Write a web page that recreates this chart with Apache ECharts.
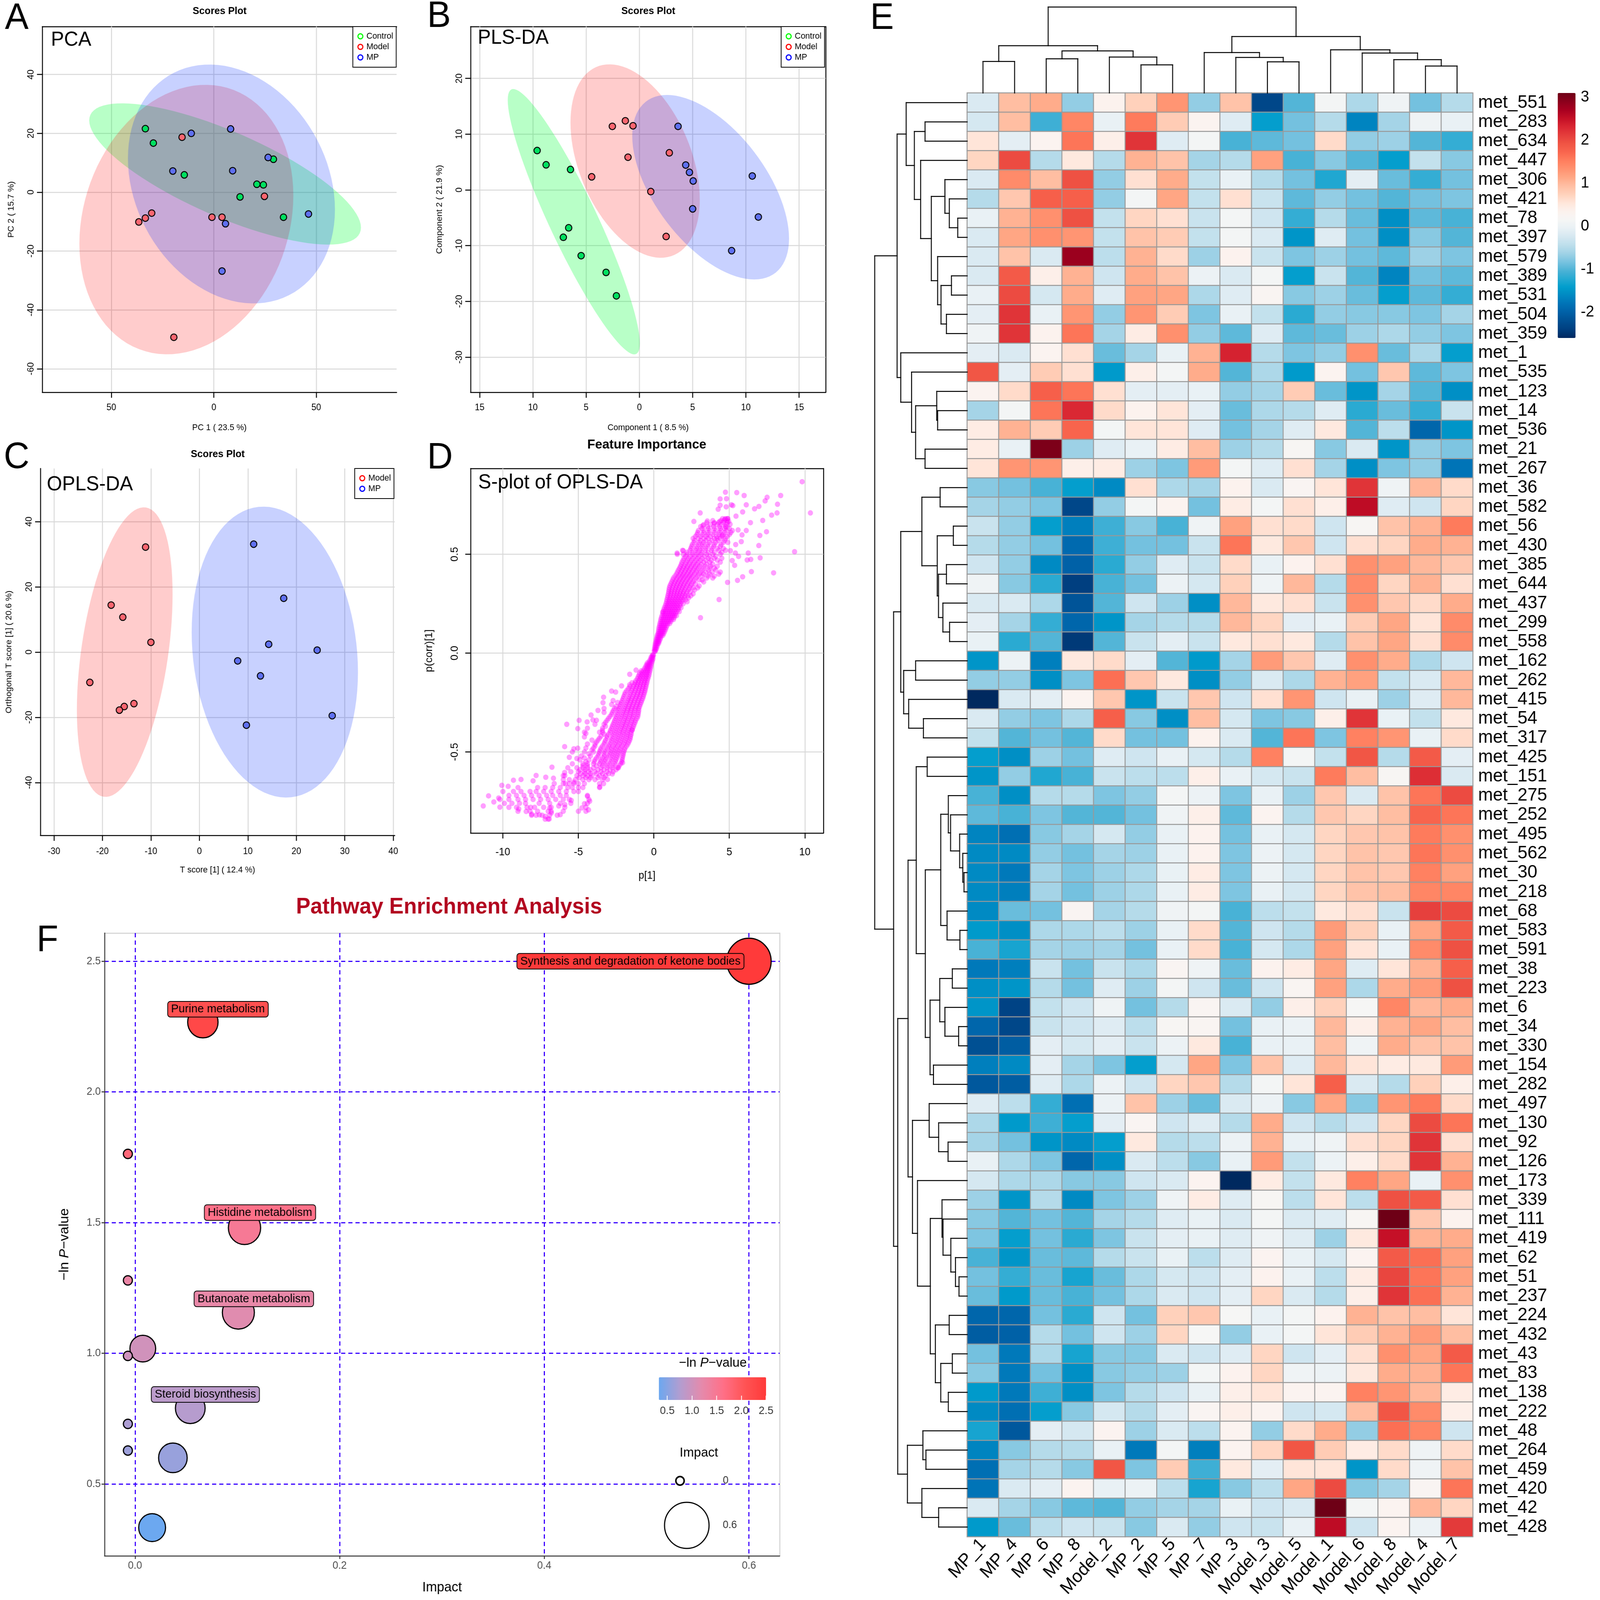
<!DOCTYPE html>
<html><head><meta charset="utf-8">
<style>html,body{margin:0;padding:0;background:#fff;overflow:hidden}#c{width:4240px;height:4095px;transform-origin:0 0}</style>
<script src="https://cdn.jsdelivr.net/npm/echarts@6/dist/echarts.min.js"></script>
</head><body><div id="c"></div>
<script>
// ---------- Scores data (A, B, C) ----------
const pcaControl=[[-33.4,21.6],[-29.5,16.7],[-14.4,5.9],[21,2.7],[24.2,2.5],[29.1,11.2],[12.8,-1.6],[34,-8.5]];
const pcaModel=[[-15.5,18.7],[24.7,-1.4],[-30.3,-7.1],[-33.4,-8.8],[-36.6,-10.1],[-0.9,-8.5],[4,-8.5],[-19.5,-49.3]];
const pcaMP=[[-11,20],[8.2,21.5],[26.5,11.8],[9.2,7.3],[-20,7.2],[5.7,-10.7],[46.2,-7.4],[4,-26.8]];
const plsControl=[[-9.6,7.06],[-8.76,4.5],[-6.47,3.66],[-6.64,-6.8],[-7.14,-8.5],[-5.47,-11.8],[-3.13,-14.8],[-2.16,-19]];
const plsModel=[[-2.54,11.4],[-1.32,12.4],[-0.6,11.5],[-1.07,5.86],[-4.48,2.35],[2.81,6.66],[1.07,-0.3],[2.51,-8.36]];
const plsMP=[[3.63,11.4],[4.35,4.46],[4.7,3.15],[5.05,1.6],[5,-3.4],[10.6,2.5],[11.17,-4.86],[8.66,-10.9]];
const oplsModel=[[-11.1,32.2],[-18.2,14.4],[-15.8,10.7],[-10,3],[-22.6,-9.3],[-13.5,-15.8],[-15.5,-16.7],[-16.5,-17.8]];
const oplsMP=[[11.2,33.1],[17.4,16.5],[14.3,2.4],[24.3,0.6],[7.9,-2.7],[12.6,-7.3],[27.4,-19.5],[9.7,-22.4]];
// confidence ellipses: centre x, centre y, half width, half height, y offset at the rightmost point
const pcaEllipses={Control:[5.5,6.2,66.3,24,-18.2],Model:[-13.4,-9.3,52.2,45.8,8.2],MP:[8.6,2.8,50.5,40.6,-8.7]};
const plsEllipses={Control:[-6.16,-5.7,6.2,23.8,-21.8],Model:[-0.4,5.18,6.07,17.35,-6.9],MP:[6.69,0.48,7.36,16.55,-9.2]};
const oplsEllipses={Model:[-15.4,0,9.87,44.4,17.75],MP:[15.56,0,17.15,44.6,-6.1]};
// ---------- S-plot (D): p[1] readings grouped by p(corr)[1] ----------
const sPlotRows=[[.02,[.04,.1,.16]],[.04,[.08,.16,.24]],[.06,[.14,.22,.3,.36]],[.08,[.2,.3,.38,.46]],[.1,[.28,.36,.46,.56,.66]],[.12,[.32,.44,.54,.66,.78]],[.14,[.38,.5,.62,.74,.88]],[.16,[.44,.56,.7,.84,.98,1.12]],[.18,[.5,.64,.78,.92,1.06,1.2,1.34]],[.2,[.6,.74,.88,1.02,1.16,1.3,1.44]],[.22,[.66,.8,.96,1.1,1.26,1.42,1.6]],[.24,[.76,.9,1.06,1.22,1.38,1.54,1.72]],[.26,[.84,1,1.16,1.32,1.48,1.66,1.84,2.2]],[.28,[.9,1.08,1.26,1.44,1.62,1.8,2,2.3]],[.3,[.96,1.14,1.34,1.54,1.72,1.92,2.14,2.6]],[.32,[1,1.2,1.4,1.6,1.82,2.04,2.3,2.7]],[.34,[1.06,1.28,1.5,1.72,1.94,2.18,2.44,3]],[.36,[1.18,1.4,1.62,1.84,2.08,2.32,2.6,3.3]],[.38,[1.3,1.54,1.78,2,2.24,2.48,2.8,3.5,3.9]],[.4,[1.5,1.74,1.96,2.2,2.44,2.7,3,3.3,3.7,4.3]],[.42,[1.62,1.86,2.1,2.34,2.6,2.86,3.2,3.6,4.1]],[.44,[1.76,2,2.24,2.5,2.76,3.04,3.4,3.75,4.2]],[.46,[1.86,2.14,2.4,2.68,2.96,3.3,3.7,4.4]],[.48,[2,2.3,2.6,2.9,3.2,3.6,4,4.5]],[.5,[1.55,1.95,2.2,2.55,2.85,3.15,3.5,3.9,4.4]],[.52,[1.9,2.4,2.75,3.05,3.4,3.8,4.3,4.75]],[.54,[2.5,2.85,3.2,3.55,3.95,4.4]],[.56,[2.65,3,3.3,3.7,4.1,4.6,4.9]],[.58,[2.6,2.95,3.3,3.6,4,4.4,4.75]],[.6,[2.85,3.2,3.55,3.9,4.3,4.6,5]],[.62,[2.95,3.3,3.7,4.1,4.45,4.8,5.2]],[.64,[3.1,3.55,3.95,4.35,4.75]],[.66,[3.5,4,4.3,4.6,4.85]],[.68,[4.55,4.75,4.9]],
[-.02,[-.06,-.12,-.18]],[-.04,[-.1,-.2,-.3]],[-.06,[-.18,-.3,-.42,-.5]],[-.08,[-.24,-.38,-.5,-.64]],[-.1,[-.3,-.46,-.62,-.78,-.94]],[-.12,[-.36,-.52,-.7,-.88,-1.04]],[-.14,[-.44,-.62,-.8,-1,-1.2]],[-.16,[-.5,-.7,-.9,-1.1,-1.3,-1.6]],[-.18,[-.56,-.76,-.98,-1.2,-1.44,-1.7]],[-.2,[-.62,-.84,-1.06,-1.3,-1.56,-1.9]],[-.22,[-.7,-.94,-1.16,-1.4,-1.66,-2]],[-.24,[-.8,-1.04,-1.28,-1.52,-1.76,-2.1,-2.7]],[-.26,[-.9,-1.12,-1.38,-1.62,-1.88,-2.2,-2.8]],[-.28,[-1,-1.24,-1.48,-1.72,-1.98,-2.3,-2.6,-3.3]],[-.3,[-1.02,-1.3,-1.56,-1.82,-2.08,-2.4,-2.75,-3.3]],[-.32,[-1.06,-1.36,-1.62,-1.9,-2.18,-2.5,-2.9]],[-.34,[-1.2,-1.46,-1.74,-2,-2.3,-2.6,-3.1,-3.8]],[-.36,[-1.3,-1.56,-1.84,-2.1,-2.4,-2.7,-3.3,-3.9]],[-.38,[-1.4,-1.66,-1.94,-2.2,-2.5,-2.8,-3.4,-4.4]],[-.4,[-1.5,-1.76,-2.04,-2.3,-2.6,-2.9,-3.4,-3.6,-4.6]],[-.42,[-1.54,-1.8,-2.1,-2.4,-2.72,-3.1,-3.5]],[-.44,[-1.6,-1.9,-2.2,-2.5,-2.8,-3.2,-3.7,-4.1]],[-.46,[-1.72,-2,-2.3,-2.6,-2.94,-3.3,-3.9,-4.4]],[-.48,[-1.9,-2.2,-2.5,-2.8,-3.1,-3.5,-4,-4.5]],[-.5,[-2,-2.3,-2.6,-2.9,-3.25,-3.6,-4,-4.6,-5.4]],[-.52,[-2.05,-2.4,-2.7,-3,-3.3,-3.7,-4.2,-4.8]],[-.54,[-2.1,-2.5,-2.8,-3.2,-3.5,-3.9,-4.3,-4.9]],[-.56,[-2.2,-2.6,-2.95,-3.3,-3.6,-4,-4.4,-4.7,-5.4]],[-.58,[-2.35,-2.75,-3.1,-3.5,-4,-4.4,-4.7,-5.1,-5.7]],[-.6,[-2.7,-3.1,-3.5,-3.9,-4.3,-4.6,-5,-5.5]],[-.62,[-3.2,-3.6,-4.1,-4.4,-4.7,-5.1,-5.9,-6]],[-.64,[-3.4,-3.9,-4.3,-4.7,-5.2,-5.6,-6]],[-.66,[-3.6,-4.6,-5,-5.3,-5.6,-6,-6.6]],[-.68,[-3.6,-4.7,-5,-5.4,-5.7,-6.2,-6.7,-7.2,-7.7,-9]],[-.7,[-5,-5.3,-5.8,-6.3,-6.8,-7.3,-7.8,-8.2,-8.8,-9.3,-10]],[-.72,[-4.4,-5.8,-6.2,-6.7,-7.1,-7.6,-8.1,-8.6,-9.1,-9.6]],[-.74,[-4.3,-5.6,-6,-6.5,-7,-7.5,-8,-8.5,-9,-9.6,-10.2]],[-.76,[-4.4,-5.5,-6.2,-6.9,-7.6,-8.5,-8.9,-9.4,-9.9]],[-.78,[-4.5,-5.9,-6.8,-7.3,-7.9,-8.4,-9.1,-9.6]],[-.8,[-4.5,-5,-6,-6.8,-7,-7.7,-8.2,-9]],[-.82,[-6.4,-6.9,-7.4,-7.8,-8.1]],[-.84,[-7,-7.2]]];
const sPlotCoreRows=[[.01,[.02,.06,.1]],[.03,[.06,.12,.2]],[.05,[.1,.18,.26,.32]],[.07,[.16,.24,.32,.42]],[.09,[.22,.32,.42,.5,.6]],[.11,[.3,.4,.5,.6,.72]],[.13,[.34,.46,.58,.7,.82]],[.15,[.4,.52,.66,.78,.92,1.05]],[.17,[.46,.6,.74,.88,1.02,1.16,1.3]],[.19,[.54,.68,.82,.96,1.1,1.24,1.38,1.5]],[.21,[.62,.76,.92,1.06,1.2,1.36,1.52,1.68]],[.23,[.7,.84,1,1.16,1.32,1.48,1.64,1.8]],[.25,[.8,.94,1.1,1.26,1.42,1.58,1.76,1.94]],[.27,[.86,1.02,1.2,1.38,1.56,1.74,1.92,2.1]],[.29,[.92,1.1,1.3,1.48,1.66,1.86,2.06,2.26,2.45]],[.31,[.98,1.16,1.36,1.56,1.76,1.96,2.2,2.42]],[.33,[1.02,1.24,1.46,1.66,1.88,2.1,2.36,2.6,2.9]],[.35,[1.12,1.34,1.56,1.78,2,2.24,2.5,2.76]],[.37,[1.24,1.48,1.7,1.92,2.16,2.4,2.68,3,3.2]],[.39,[1.4,1.64,1.88,2.1,2.34,2.58,2.9,3.2,3.6,4]],[.41,[1.56,1.8,2.04,2.28,2.52,2.8,3.1,3.45,3.85,4.4]],[.43,[1.7,1.94,2.18,2.42,2.68,2.95,3.3,3.7,4]],[.45,[1.82,2.08,2.34,2.6,2.86,3.15,3.5,3.9]],[.47,[1.94,2.22,2.5,2.8,3.1,3.45,3.8,4.2]],[.49,[2.1,2.4,2.7,3,3.35,3.7,4.1]],[.51,[2.2,2.55,2.9,3.2,3.6,4,4.5]],[.53,[2.45,2.8,3.1,3.45,3.85,4.2,4.6]],[.55,[2.55,2.95,3.25,3.6,4,4.45]],[.57,[2.7,3.1,3.45,3.85,4.25,4.7]],[.59,[2.75,3.1,3.45,3.75,4.15,4.5,4.85]],[.61,[2.9,3.3,3.6,4,4.35,4.7,5.1]],[.63,[3.2,3.6,4,4.4,4.7,5]],[.65,[3.3,3.75,4.2,4.5,4.8]],[.67,[3.9,4.45,4.65,4.85]],
[-.01,[-.02,-.06,-.1]],[-.03,[-.06,-.14,-.22]],[-.05,[-.14,-.24,-.34,-.44]],[-.07,[-.2,-.32,-.44,-.56]],[-.09,[-.26,-.4,-.54,-.7,-.84]],[-.11,[-.32,-.48,-.64,-.8,-.98]],[-.13,[-.4,-.56,-.74,-.92,-1.1]],[-.15,[-.46,-.64,-.84,-1.04,-1.24,-1.45]],[-.17,[-.52,-.72,-.92,-1.14,-1.36,-1.6]],[-.19,[-.58,-.8,-1,-1.24,-1.48,-1.8]],[-.21,[-.66,-.88,-1.1,-1.34,-1.6,-1.94]],[-.23,[-.74,-.98,-1.22,-1.46,-1.7,-2.04]],[-.25,[-.84,-1.08,-1.32,-1.56,-1.82,-2.14,-2.4]],[-.27,[-.94,-1.18,-1.42,-1.66,-1.92,-2.24,-2.5]],[-.29,[-1,-1.26,-1.52,-1.76,-2.02,-2.34,-2.68]],[-.31,[-1.04,-1.32,-1.58,-1.86,-2.14,-2.44,-2.8]],[-.33,[-1.12,-1.4,-1.68,-1.94,-2.24,-2.54,-3]],[-.35,[-1.24,-1.5,-1.78,-2.04,-2.34,-2.64,-3.2]],[-.37,[-1.34,-1.6,-1.88,-2.14,-2.44,-2.76,-3.2]],[-.39,[-1.44,-1.7,-1.98,-2.26,-2.56,-2.88,-3.4]],[-.41,[-1.5,-1.78,-2.06,-2.36,-2.66,-3,-3.3]],[-.43,[-1.56,-1.84,-2.14,-2.44,-2.76,-3.1,-3.6]],[-.45,[-1.66,-1.94,-2.24,-2.54,-2.86,-3.25,-3.8]],[-.47,[-1.8,-2.1,-2.4,-2.7,-3,-3.4,-3.9]],[-.49,[-1.94,-2.24,-2.54,-2.84,-3.2,-3.55,-4.1]],[-.51,[-2.02,-2.34,-2.64,-2.94,-3.3,-3.65,-4.3]],[-.53,[-2.08,-2.44,-2.74,-3.1,-3.4,-3.8,-4.6]],[-.55,[-2.14,-2.54,-2.88,-3.24,-3.55,-3.95,-4.5]],[-.57,[-2.3,-2.7,-3.05,-3.4,-3.8,-4.4,-4.7]],[-.59,[-2.5,-2.9,-3.3,-3.7,-4.2,-4.55,-4.9]],[-.61,[-3,-3.4,-3.8,-4.2,-4.55,-4.85]],[-.63,[-3.3,-3.7,-4.2,-4.5,-4.95]]];
const sPlotOutliers=[[9.82,.867],[10.37,.709],[9.32,.513],[7.93,.406],[8.4,.797],[7.5,.788],[7.37,.77],[8.19,.753],[8.16,.709],[7.8,.698],[6.96,.742],[6.67,.73],[6.12,.75],[5.98,.797],[5.49,.812],[4.74,.814],[4.39,.78],[4.81,.781],[4.39,.748],[4.26,.728],[4.79,.74],[5.14,.75],[5.23,.746],[5.88,.714],[5.44,.693],[7.21,.671],[6.4,.66],[7.46,.614],[7.02,.595],[6.12,.62],[5.58,.623],[5.84,.598],[5.79,.564],[5.42,.549],[6.95,.544],[6.25,.506],[7.04,.482],[6.42,.474],[6.18,.471],[6.46,.412],[5.88,.386],[5.54,.368],[4.88,.358],[4.32,.271],[3.09,.179],[5.07,.518],[5.4,.506],[5.61,.489],[5.19,.468],[5.35,.444],[3.07,.709],[2.65,.666],[3.54,.668],[3.25,.645],[4,.657],[4.35,.666],[4.7,.677],[4.88,.68],[4.96,.666],[5.05,.652],[4.79,.637],[4.53,.595],[4.18,.581],[1.54,.506],[1.95,.518],[.58,.207],
[-11.3,-.773],[-10.95,-.722],[-10.6,-.753],[-10.28,-.733],[-10.2,-.779],[-10.07,-.669],[-9.65,-.674],[-9.3,-.643],[-8.8,-.639],[-8,-.646],[-7.8,-.619],[-7.16,-.628],[-6.65,-.633],[-6.75,-.577],[-8.95,-.788],[-8.46,-.801],[-8.16,-.78],[-8.09,-.815],[-7.58,-.818],[-7.19,-.826],[-6.93,-.839],[-6.79,-.808],[-6.9,-.783],[-6.2,-.817],[-6.3,-.773],[-5.9,-.766],[-5.47,-.745],[-4.77,-.783],[-4.6,-.762],[-4.33,-.793],[-4.25,-.749],[-4.4,-.724],[-5.91,-.604],[-5.86,-.66],[-5.3,-.653],[-5.91,-.473],[-5.3,-.484],[-5.04,-.481],[-5.77,-.36],[-4.95,-.34],[-5.04,-.382],[-4.42,-.348],[-4.16,-.313],[-4.04,-.338],[-4.5,-.406],[-4.6,-.424],[-5.6,-.527],[-5.1,-.533],[-3.7,-.29],[-3.33,-.223],[-3.37,-.251],[-2.8,-.192],[-2.53,-.197],[-2.14,-.166],[-1.6,-.107],[-1.18,-.086],[-1.44,-.388],[-2.07,-.554],[-2.4,-.58],[-3.07,-.639],[-2.75,-.611],[-3.33,-.66],[-3.58,-.677]];
// ---------- Heatmap (E) ----------
const sampleNames=['MP_1','MP_4','MP_6','MP_8','Model_2','MP_2','MP_5','MP_7','MP_3','Model_3','Model_5','Model_1','Model_6','Model_8','Model_4','Model_7'];
const metNames=['met_551','met_283','met_634','met_447','met_306','met_421','met_78','met_397','met_579','met_389','met_531','met_504','met_359','met_1','met_535','met_123','met_14','met_536','met_21','met_267','met_36','met_582','met_56','met_430','met_385','met_644','met_437','met_299','met_558','met_162','met_262','met_415','met_54','met_317','met_425','met_151','met_275','met_252','met_495','met_562','met_30','met_218','met_68','met_583','met_591','met_38','met_223','met_6','met_34','met_330','met_154','met_282','met_497','met_130','met_92','met_126','met_173','met_339','met_111','met_419','met_62','met_51','met_237','met_224','met_432','met_43','met_83','met_138','met_222','met_48','met_264','met_459','met_420','met_42','met_428'];
const heatValues=[
[-.2,.95,1.1,-.7,.35,.75,1.3,-.7,.9,-2.3,-1,.1,-.55,.05,-.85,-.5],
[-.25,.95,-1.1,1.45,-.05,1.55,.8,.3,-.15,-1.4,-.85,-.5,-1.65,-.6,.05,-.05],
[.55,-.1,.3,1.6,.4,2.2,-.15,.1,-1.05,-.95,-.85,.65,-.7,-.65,-1,-1.15],
[.7,2,-.5,.5,-.5,1.05,.9,-.6,-.5,1.2,-1.05,-.75,-1,-1.4,-.4,-.75],
[-.2,1.4,.95,1.95,-.7,.6,1.1,-.4,-.05,-.5,-.85,-1.25,-.1,-.9,-1.15,-.85],
[-.5,.85,1.8,1.8,-.7,.1,1.15,-.4,.6,-.35,-.95,-.7,-.85,-1,-.85,-.8],
[-.05,1.05,1.35,1.95,-.4,.7,.6,-.35,.1,-.3,-1.15,-.5,-.9,-1.55,-.95,-1.05],
[-.2,1.15,1.35,1.3,-.4,.9,.8,-.4,.1,-.2,-1.5,-.15,-.85,-1.55,-.75,-1],
[-.2,.9,-.2,2.8,-.45,1.05,.65,-.65,.35,-.35,-.8,-.65,-.85,-.95,-.65,-.8],
[-.2,1.85,.4,1.05,-.3,1.1,.9,0,-.2,.1,-1.4,-.35,-1,-1.65,-.85,-.95],
[-.05,2,-.25,1.1,-.15,1.2,1.15,-.55,-.15,.25,-.75,-.65,-.9,-1.4,-.95,-1.15],
[-.1,2.2,-.05,1.3,-.7,1.3,.8,-.8,-.05,-.4,-1.2,-.7,-.75,-.75,-.8,-.6],
[.05,2.2,.35,1.6,-.6,.45,1.35,-.7,-.95,-.15,-.95,-.9,-.65,-.55,-.7,-.8],
[-.1,-.2,.3,.6,-.9,-.6,-.05,1.05,2.35,-.5,-.8,-.7,1.35,-.9,-.55,-1.4],
[1.9,-.1,.8,.6,-1.45,.4,.1,1.1,-1,-.55,-1.45,.3,-.85,.85,-.95,-.8],
[.3,.65,1.8,1.6,.6,-.1,-.1,-.05,-.7,-.6,.8,-.9,-1.5,-.6,-1,-1.55],
[-.6,.1,1.6,2.3,.65,.35,.55,-.1,-.9,-.55,-.5,-.15,-1.2,-.9,-1.15,-.35],
[.45,1.05,.8,1.75,.1,.55,.55,-.15,-.85,-.6,-.15,.5,-1,-.45,-1.95,-1.5],
[.45,-.05,3,-.65,-.15,-.05,.45,.95,-.65,-.5,.2,-.75,-.2,-1.5,-.7,-.8],
[.55,1.3,1.3,.4,.45,-.65,-.8,1.25,.1,-.15,.6,-.6,-1.55,-.8,-.7,-1.8],
[-.75,-.85,-1.05,-1.4,-1.6,.6,-.55,-.6,.35,-.2,.25,.55,2.2,.05,1,.65],
[-.6,-.7,-.8,-2.3,-.7,.1,.3,-.85,.45,.1,.6,.4,2.55,-.15,-.3,.7],
[-.35,-.7,-1.4,-1.7,-1.1,-.75,-1.05,.05,1.2,.6,.65,-.3,.2,.9,1.05,1.55],
[-.5,-.7,-.85,-1.9,-1.1,-.85,-.85,-.35,1.6,.5,.85,-.3,.6,.7,1.1,1.05],
[-.3,-.7,-1.6,-2,-1.2,-.7,-.15,-.35,.65,-.05,.35,.6,1.35,1.2,1,.85],
[.05,-.75,-1.2,-2.4,-1.05,-.85,0,-.25,.75,.05,1,-.5,1.4,.7,1.05,.6],
[-.2,-.2,-.55,-2.15,-1,-.3,-.65,-1.55,1,.5,.6,-.35,1.35,.85,.65,1.1],
[-.1,-.6,-1.15,-1.95,-1.5,-.6,-.5,-.5,1,.7,-.1,-.05,.8,1.15,.55,1.4],
[-.05,-1.2,-1,-2.45,-1,-.35,-.1,-.35,.5,.6,.5,-.5,.9,1.15,.6,1.4],
[-1.5,0,-1.7,.5,.65,-.1,-1,-1.45,-.6,1.25,.85,-.15,1.35,1.1,-.55,-.3],
[-.7,-.7,-1.55,-.8,1.65,.85,.5,-1.55,-.7,-.2,-.55,1.05,1.2,-.4,-.2,1],
[-2.9,-.2,-.1,.3,.85,-1.5,-.35,.85,-.3,.6,1.3,-.3,-.05,-.65,-.15,1],
[-.2,-.7,-.8,-.55,1.8,-.75,-1.55,.95,-.25,-.8,-.75,.4,2.2,-.05,-.4,.5],
[-.4,-1,-.85,-1,.65,-.85,-.85,.35,-.2,-1,1.6,-.8,1.5,1.3,-.05,.65],
[-1.4,-1.55,-.65,-.85,-.15,-.3,-.05,-.25,-.5,1.5,.1,-.4,1.9,-.5,1.85,-.1],
[-1.5,-.7,-1.25,-1.05,-.35,-.45,-.45,.4,-.05,-.25,-.35,1.55,.95,.2,2.25,-.2],
[-1.05,-1.55,-.5,-.5,-.8,-.7,.1,0,-.8,-.05,-.65,.85,-.2,.9,1.6,2],
[-.95,-1.05,-.8,-1,-1,-.85,.05,.4,-.95,.3,-.5,.85,.7,.95,1.75,1.6],
[-1.65,-1.85,-.75,-.6,-.25,-.7,-.05,.35,-.85,-.05,-.25,.7,.85,.9,1.55,1.35],
[-1.6,-1.6,-.7,-.85,-.6,-.65,-.05,.35,-.8,0,-.25,.7,.9,.85,1.6,1.35],
[-1.6,-1.75,-.6,-.8,-.65,-.55,-.05,.45,-.8,0,-.25,.7,.9,.85,1.5,1.2],
[-1.6,-1.7,-.6,-.85,-.65,-.55,-.05,.45,-.8,-.05,-.25,.7,.9,.95,1.45,1.45],
[-1.6,-.9,-.85,.25,-.6,-.5,.05,.1,-1.05,-.45,-.4,.5,.6,-.35,2.1,2],
[-1.45,-1.55,-.55,-.55,-.45,-.65,-.05,.65,-1,-.3,-.5,1.25,.75,-.05,1.15,1.85],
[-1.05,-1.3,-.6,-.65,-.6,-.85,-.05,.65,-1.05,-.25,-.55,1.2,.55,-.05,1.4,1.95],
[-1.75,-1.7,-.35,-.85,-.35,-.55,.25,.05,-.9,.35,.45,1.15,-.15,.55,1.05,1.8],
[-1.55,-1.5,-.5,-.85,-.15,-.65,.1,-.3,-.9,-.3,.25,1.2,-.55,1.1,1.25,1.95],
[-1.5,-2.35,-.4,-.3,.05,-.85,-.5,.25,-.2,-.7,.4,.75,.15,1.45,1,1.1],
[-1.95,-2.3,-.35,-.3,-.15,-.45,.2,.25,-.85,-.05,0,1,.4,1.05,1.15,.95],
[-2.2,-2.05,-.1,-.25,-.1,-.35,0,.5,-1.05,-.05,-.05,.95,.05,1.1,.9,.9],
[-1.7,-1.6,-.1,-.6,-.8,-1.4,-.25,1.15,-.8,.9,-.15,1,.55,.45,.5,1.25],
[-2.1,-2.05,-.15,-.55,0,-.3,.7,.85,-.5,.1,.55,1.8,-.2,-.5,.75,.4],
[-.15,-.45,-1.15,-1.85,0,.9,-.65,-.9,-.2,0,-.75,1.15,-.75,1.3,1.55,.65],
[-.55,-1.45,-1.1,-1.4,-.1,.25,-.3,-.15,-.5,1.1,-.3,-.5,-.3,.7,2,1.6],
[-.6,-.85,-1.5,-1.6,-1.4,.5,-.5,-.45,0,1.05,-.05,.05,.6,.7,2.2,.6],
[-.05,-.55,-.8,-1.95,-1.55,-.2,-.45,-.75,-.05,1.25,-.4,0,.4,.65,2.2,1.05],
[-.25,-.55,-.55,-.75,-.75,-.3,-.2,.3,-2.7,.45,-.4,.5,1.5,1.15,-.05,1.35],
[-.65,-1.5,-.5,-1.6,-.8,-.65,.05,.45,-.15,.2,-.45,.55,-.45,1.95,1.85,.6],
[-.75,-1,-.85,-1,-.6,-.5,-.15,-.05,-.2,.1,-.2,-.15,.2,3.1,.85,.35],
[-.8,-1.4,-.85,-1.2,-.8,-.35,-.1,-.05,-.15,.05,-.15,-.65,.5,2.5,1.05,1.1],
[-1.05,-1.5,-.9,-.95,-.5,-.35,-.05,-.45,-.15,.3,-.05,-.25,.3,1.85,1.65,1.2],
[-.85,-1.15,-.9,-1.3,-.9,-.55,-.25,-.3,-.1,.35,-.05,-.45,.45,2.05,1.6,1.2],
[-.9,-1.45,-.9,-1.05,-.85,-.55,-.2,-.3,-.1,.7,-.2,-.5,.4,2.2,1.65,1.05],
[-1.95,-1.95,-.85,-1.2,-.3,-.85,.75,.85,.15,-.05,.1,.35,1.05,.9,.95,.55],
[-2.05,-2,-.5,-.85,-.3,-.65,.7,.15,-.7,-.05,.1,.55,.8,1.05,1.25,.95],
[-.85,-1.75,-.55,-1.3,-.75,-.75,-.2,-.3,-.15,.7,-.3,-.1,.6,1.35,1.15,1.85],
[-.75,-1.75,-.85,-1.55,-.75,-.7,-.65,.1,.35,.7,.05,0,.5,1.1,1.05,1.6],
[-1.45,-1.75,-1.1,-1.55,-.8,-.5,-.3,-.05,.4,.55,.3,.3,1.5,1.3,1,.45],
[-1.6,-1.85,-1.4,-.75,-.25,-.5,-.1,.25,.4,.3,-.3,-.25,.95,1.9,1.4,.4],
[-1.3,-2.1,-.1,-.25,.3,-.65,-.2,-.45,.3,-.7,.65,1.1,-.7,1.65,1.45,-.3],
[-1.65,-.75,-.5,-.5,-.05,-1.75,.1,-1.7,.3,.7,1.9,.8,.45,.65,.05,.65],
[-1.85,-.6,-.5,-.75,1.9,-.8,.8,-1.1,.5,-.1,.55,.55,-1.5,.65,.05,.9],
[-1.8,-.2,-.1,.3,-.05,0,-.45,-1.3,-.75,-.45,1.15,2,-.75,-.6,.25,1.6],
[-.2,-.6,-.75,-.95,-1,-.7,-.6,-.6,-.05,-.3,-.2,3.15,.1,.3,1,.7],
[-1.45,-.9,-.45,-.3,-.35,-.75,-.2,-.7,-.3,-.35,-.05,2.55,-.3,.3,0,2.15]];
// dendrograms: a node is [left, right, merge height]; a number is a leaf index
const colLeft=[[0,1,36.7],[[2,3,39.8],[4,[5,6,32.7],41.8],49],55];
const colRight=[[7,[8,[9,10,36.3],41.4],47],[11,[12,[13,[14,15,31.4],38.8],46.5],50.2],65.7];
const colTree=[colLeft,colRight,100];
const rowA=[0,[[1,2,111.7],[3,[[4,[5,[6,7,25],47.3],59],[8,[[9,10,41.7],[11,12,55],69.3],78.3],95],123.3],140],161.7];
const rowB=[13,[14,[[15,[16,17,78.3],80.7],[18,19,111.7],136.7],147.3],176];
const rowD=[[[20,21,71.7],[[22,23,36.7],[[24,25,55],[26,[27,28,46.7],64.3],76],79.3],120],[[29,30,136.7],[31,[32,33,116],155],168.3],176];
const rowQ=[[36,[37,[38,[39,[40,41,8.3],11.7],20],44],50],[42,[43,44,19.3],53.3],70];
const rowR=[[[45,46,39.3],[47,[48,49,22.7],59],72.7],[50,51,89.3],98.3];
const rowM=[[34,35,106],[rowQ,rowR,111],135];
const rowS=[[57,[58,[59,[60,[61,62,21.7],31],43.3],64],66.7],[[63,64,47.7],[[65,66,39.3],[67,68,50],70],84.3],97.7];
const rowN=[[52,[53,[54,55,50.7],75.7],100.7],[56,rowS,131.7],145];
const rowG=[[69,[70,71,109.3],117.3],[72,[73,74,75.7],120],158.3];
const rowTree=[[rowA,rowB,185.7],[rowD,[[rowM,rowN,156.7],rowG,184],195],245];
// ---------- Pathways (F) ----------
const pathwayImpact=[.6,.0663,.107,.101,.0076,.054,.037,.0167,-.007,-.007,-.007,-.007,-.007];
const pathwayLnP=[2.5,2.267,1.48,1.156,1.018,.79,.6,.333,1.763,1.279,.99,.73,.628];
const pathwayNames=['Synthesis and degradation of ketone bodies','Purine metabolism','Histidine metabolism','Butanoate metabolism','','Steroid biosynthesis','','','','','','',''];
// ---------- Tick labels ----------
const pcaXTicks=[-50,0,50],pcaYTicks=[40,20,0,-20,-40,-60];
const plsXTicks=[-15,-10,-5,0,5,10,15],plsYTicks=[20,10,0,-10,-20,-30];
const oplsXTicks=[-30,-20,-10,0,10,20,30,40],oplsYTicks=[40,20,0,-20,-40];
const sXTicks=[-10,-5,0,5,10],sYTicks=[.5,0,-.5];
const fXTicks=[0,.2,.4,.6],fYTicks=[.5,1,1.5,2,2.5];
const heatLegendTicks=[3,2,1,0,-1,-2],fLegendTicks=[.5,1,1.5,2,2.5];

// ---------- Option building ----------
const FONT='"Liberation Sans",Arial,Helvetica,sans-serif';
const COL={Control:{pt:'#00e060',el:'rgba(0,255,55,0.28)',leg:'#00ff00'},Model:{pt:'#fb6670',el:'rgba(255,0,0,0.2)',leg:'#ff0000'},MP:{pt:'#5f70f0',el:'rgba(0,41,255,0.215)',leg:'#0000ff'}};
const grid=[],xAxis=[],yAxis=[],series=[],legend=[],graphic=[],visualMap=[];
const noAxisBits={axisLabel:{show:false},axisTick:{show:false},splitLine:{show:false}};
function frameAxis(g,pos,r,color,w){return Object.assign({gridIndex:g,type:'value',position:pos,min:r[0],max:r[1],axisLine:{onZero:false,lineStyle:{color,width:w}}},noAxisBits);}
function panel(p){
  const g=grid.length;
  grid.push({left:p.left,top:p.top,width:p.width,height:p.height});
  const axColor=p.axisColor||'#000', tickLen=p.tickLen===undefined?14:p.tickLen;
  const split=p.split||{show:true,lineStyle:{color:'#d9d9d9',width:2.5}};
  const xi=xAxis.length,yi=yAxis.length;
  xAxis.push({gridIndex:g,type:'value',position:'bottom',min:p.xr[0],max:p.xr[1],
    name:p.xname,nameLocation:'middle',nameGap:p.xGap,nameTextStyle:{fontFamily:FONT,fontSize:p.nameSize,color:'#000'},
    axisLine:{onZero:false,lineStyle:{color:axColor,width:2.5}},axisTick:{length:tickLen,customValues:p.xt,lineStyle:{color:axColor,width:2.5}},
    axisLabel:{customValues:p.xt,fontFamily:FONT,fontSize:p.tickSize,color:p.tickColor||'#000',margin:p.xMargin,formatter:p.xfmt},splitLine:split,z:1});
  yAxis.push({gridIndex:g,type:'value',position:'left',min:p.yr[0],max:p.yr[1],
    name:p.yname,nameLocation:'middle',nameGap:p.yGap,nameTextStyle:Object.assign({fontFamily:FONT,fontSize:p.nameSize,color:'#000'},p.yNameStyle||{}),
    axisLine:{onZero:false,lineStyle:{color:axColor,width:2.5}},axisTick:{length:tickLen,customValues:p.yt,lineStyle:{color:axColor,width:2.5}},
    axisLabel:{customValues:p.yt,rotate:p.yRot,fontFamily:FONT,fontSize:p.tickSize,color:p.tickColor||'#000',margin:p.yMargin,formatter:p.yfmt},splitLine:split,z:1});
  if(p.top_line) xAxis.push(frameAxis(g,'top',p.xr,p.top_line,2.5));
  if(p.right_line) yAxis.push(frameAxis(g,'right',p.yr,p.right_line,2.5));
  return {xi,yi};
}
function ellipseSeries(ax,name,e){
  series.push({type:'custom',xAxisIndex:ax.xi,yAxisIndex:ax.yi,silent:true,z:1,clip:false,encode:{x:0,y:1},data:[e],
    renderItem(_,api){
      const c=[api.value(0),api.value(1)],rx=api.value(2),ry=api.value(3),k=api.value(4),v=Math.sqrt(ry*ry-k*k),pts=[];
      for(let i=0;i<96;i++){const t=i/96*2*Math.PI;pts.push(api.coord([c[0]+rx*Math.cos(t),c[1]+k*Math.cos(t)+v*Math.sin(t)]));}
      return {type:'polygon',shape:{points:pts},style:{fill:COL[name].el}};
    }});
}
function scoreSeries(ax,sets,ells){
  Object.keys(sets).forEach(n=>ellipseSeries(ax,n,ells[n]));
  Object.keys(sets).forEach(n=>series.push({type:'scatter',name:n,xAxisIndex:ax.xi,yAxisIndex:ax.yi,z:3,symbolSize:17,
    itemStyle:{color:COL[n].pt,opacity:1,borderColor:'#000',borderWidth:2.5},data:sets[n]}));
}
function addLegend(names,left,top,pad){
  legend.push({orient:'vertical',left,top,selectedMode:false,itemWidth:22,itemHeight:13,itemGap:5,padding:pad,backgroundColor:'#fff',borderColor:'#000',borderWidth:2,z:6,
    textStyle:{fontFamily:FONT,fontSize:22,color:'#000',lineHeight:20},
    data:names.map(n=>({name:n,icon:'circle',itemStyle:{color:'#fff',borderColor:COL[n].leg,borderWidth:3,opacity:1}}))});
}
const txt=(text,x,y,font,o)=>graphic.push({type:'text',x,y,z:10,silent:true,style:Object.assign({text,font:font+' '+FONT,fill:'#000',align:'center',verticalAlign:'middle'},o||{})});
const abs=v=>String(Math.abs(v));

// A
const axA=panel({left:112,top:68,width:939,height:936,xr:[-83.7,89.2],yr:[-68,56.3],xt:pcaXTicks,yt:pcaYTicks,xname:'PC 1 ( 23.5 %)',yname:'PC 2 ( 15.7 %)',xGap:80,yGap:71,nameSize:22,tickSize:23,xMargin:28,yMargin:18,yRot:90,xfmt:abs,top_line:'#000'});
scoreSeries(axA,{Control:pcaControl,Model:pcaModel,MP:pcaMP},pcaEllipses);
addLegend(['Control','Model','MP'],935,68,[14,8,14,12]);
// B
const axB=panel({left:1247,top:68,width:941,height:936,xr:[-15.85,17.49],yr:[-36.3,29.3],xt:plsXTicks,yt:plsYTicks,xname:'Component 1 ( 8.5 %)',yname:'Component 2 ( 21.9 %)',xGap:80,yGap:71,nameSize:22,tickSize:23,xMargin:28,yMargin:18,yRot:90,xfmt:abs,top_line:'#000',right_line:'#000'});
scoreSeries(axB,{Control:plsControl,Model:plsModel,MP:plsMP},plsEllipses);
addLegend(['Control','Model','MP'],2070,68,[14,8,14,12]);
// C
const axC=panel({left:107,top:1199,width:939,height:939,xr:[-32.8,40.3],yr:[-56.2,56.3],xt:oplsXTicks,yt:oplsYTicks,xname:'T score [1] ( 12.4 %)',yname:'Orthogonal T score [1] ( 20.6 %)',xGap:78,yGap:72,nameSize:22,tickSize:23,xMargin:30,yMargin:18,yRot:90});
scoreSeries(axC,{Model:oplsModel,MP:oplsMP},oplsEllipses);
addLegend(['Model','MP'],940,1199,[14,8,14,12]);
// D
const axD=panel({left:1247,top:1199,width:935,height:933,xr:[-12.14,11.23],yr:[-.91,.934],xt:sXTicks,yt:sYTicks,xname:'p[1]',yname:'p(corr)[1]',xGap:96,yGap:96,nameSize:27,tickSize:27,xMargin:36,yMargin:28,yRot:90,yfmt:v=>v.toFixed(1),top_line:'#000',right_line:'#000'});
const sPlotPoints=sPlotOutliers.concat(...sPlotRows.concat(sPlotCoreRows).map(r=>r[1].map(x=>[x,r[0]])));
series.push({type:'scatter',xAxisIndex:axD.xi,yAxisIndex:axD.yi,z:3,symbolSize:14,large:false,itemStyle:{color:'rgba(255,0,255,0.48)'},data:sPlotPoints});

// F
const dash={show:true,lineStyle:{color:'#3a00ff',width:3,type:[11,8]}};
const axF=panel({left:277,top:2388,width:1789,height:1594,xr:[-.0298,.63],yr:[.225,2.608],xt:fXTicks,yt:fYTicks,xname:'Impact',yname:'−ln {i|P}−value',xGap:64,yGap:88,nameSize:35,tickSize:27,tickColor:'#4d4d4d',axisColor:'#333',tickLen:8,xMargin:12,yMargin:10,split:dash,xfmt:v=>v.toFixed(1),yfmt:v=>v.toFixed(1),top_line:'#d0d0d0',right_line:'#d0d0d0',yNameStyle:{rich:{i:{fontFamily:FONT,fontSize:35,fontStyle:'italic',color:'#000'}}}});
const labelStyle={Synthesis:['#ff3a3a',-314,0],Purine:['#ff5050',40,-33],Histidine:['#ff7088',41,-39],Butanoate:['#e888a8',41,-35],Steroid:['#bc9ccb',40,-35]};
const bubbleR=x=>x<0?12:31+36*Math.sqrt(x);
const fSeriesIndex=series.length;
series.push({type:'scatter',xAxisIndex:axF.xi,yAxisIndex:axF.yi,z:3,
  symbolSize:v=>2*bubbleR(v[0]),itemStyle:{borderColor:'#000',borderWidth:3,opacity:1},
  data:pathwayImpact.map((x,i)=>{
    const n=pathwayNames[i],d={value:[x,pathwayLnP[i]]};
    if(n){const s=labelStyle[n.split(' ')[0]];
      d.label={show:true,position:'inside',offset:[s[1],s[2]],formatter:n,backgroundColor:s[0],borderColor:'#000',borderWidth:2,borderRadius:6,padding:[4,8],color:'#000',fontFamily:FONT,fontSize:30};}
    return d;})});
visualMap.push({type:'continuous',seriesIndex:fSeriesIndex,dimension:1,min:.33,max:2.5,orient:'horizontal',left:1746,top:3525,itemWidth:58,itemHeight:284,padding:0,calculable:false,text:null,showLabel:false,
  inRange:{color:['#6ca8f0','#b39dd0','#e58aac','#ff7088','#ff5455','#ff3a3a']},textStyle:{fontSize:1,color:'#fff'}});
// legend backgrounds of F
graphic.push({type:'rect',z:1,silent:true,shape:{x:1731,y:3466,width:332,height:246},style:{fill:'#fff'}});
graphic.push({type:'rect',z:1,silent:true,shape:{x:1731,y:3700,width:200,height:280},style:{fill:'#fff'}});
const gLeg=grid.length;grid.push({left:1746,top:3525,width:284,height:58});
xAxis.push({gridIndex:gLeg,type:'value',min:.33,max:2.5,position:'bottom',z:6,axisLine:{show:false},axisTick:{show:true,inside:true,length:11,customValues:fLegendTicks,lineStyle:{color:'#fff',width:2}},
  axisLabel:{customValues:fLegendTicks,fontFamily:FONT,fontSize:28,color:'#333',margin:14,formatter:v=>v.toFixed(1)},splitLine:{show:false}});
yAxis.push(Object.assign({gridIndex:gLeg,type:'value',min:0,max:1,axisLine:{show:false}},noAxisBits));
graphic.push({type:'text',x:1889,y:3489,z:10,silent:true,style:{text:'−ln {i|P}−value',rich:{i:{fontStyle:'italic',fontSize:34,fontFamily:FONT}},font:'34px '+FONT,fill:'#000',align:'center',verticalAlign:'middle'}});
txt('Impact',1852,3719,'34px');
txt('0',1923,3790,'27px',{fill:'#333'});
txt('0.6',1934,3904,'27px',{fill:'#333'});
graphic.push({type:'circle',z:10,silent:true,shape:{cx:1802,cy:3790,r:11},style:{fill:'#fff',stroke:'#000',lineWidth:4}});
graphic.push({type:'circle',z:10,silent:true,shape:{cx:1820,cy:3904,r:59},style:{fill:'#fff',stroke:'#000',lineWidth:3}});

// E heatmap
const H={left:2563,top:238,width:1340,height:3695};
const gH=grid.length;grid.push(H);
const xH=xAxis.length,yH=yAxis.length;
xAxis.push({gridIndex:gH,type:'category',data:sampleNames,position:'bottom',axisLine:{show:false},axisTick:{show:false},splitLine:{show:false},splitArea:{show:false},
  axisLabel:{interval:0,rotate:47,fontFamily:FONT,fontSize:46,color:'#000',margin:12}});
yAxis.push({gridIndex:gH,type:'category',inverse:true,data:metNames,position:'right',axisLine:{show:false},axisTick:{show:false},splitLine:{show:false},splitArea:{show:false},
  axisLabel:{interval:0,fontFamily:FONT,fontSize:47,color:'#000',margin:14}});
const heatData=[];heatValues.forEach((r,i)=>r.forEach((v,j)=>heatData.push([j,i,v])));
const heatIndex=series.length;
series.push({type:'heatmap',xAxisIndex:xH,yAxisIndex:yH,data:heatData,silent:true,progressive:0,itemStyle:{borderColor:'#999',borderWidth:2.5}});
visualMap.push({type:'continuous',seriesIndex:heatIndex,dimension:2,min:-2.6,max:3.1,orient:'vertical',left:4128,top:238,itemWidth:47,itemHeight:627,padding:0,calculable:false,showLabel:false,text:null,
  inRange:{color:['#00295f','#003f80','#004f92','#0060a6','#0072b6','#0088c2','#009dcc','#25a9d2','#4db3d6','#78c3e0','#a0d2e6','#bedfec','#d6e8f1','#e9f1f5','#f6f6f5','#fcf2ee','#ffe6da','#ffd2bc','#ffbfa4','#ffa886','#ff9270','#ff7e5e','#f9664e','#f05444','#e53e3c','#d92632','#c40f26','#a80020','#8c001c','#6e0016']},textStyle:{fontSize:1,color:'#fff'}});
const gCb=grid.length;grid.push({left:4128,top:238,width:47,height:627});
xAxis.push(Object.assign({gridIndex:gCb,type:'value',min:0,max:1,axisLine:{show:false}},noAxisBits));
yAxis.push({gridIndex:gCb,type:'value',min:-2.6,max:3.1,position:'right',axisLine:{show:false},axisTick:{show:false,customValues:heatLegendTicks},splitLine:{show:false},
  axisLabel:{customValues:heatLegendTicks,fontFamily:FONT,fontSize:40,color:'#000',margin:14}});

// dendrograms
function segments(tree){
  const segs=[];
  const walk=n=>{
    if(typeof n==='number')return [n+.5,0];
    const a=walk(n[0]),b=walk(n[1]),h=n[2];
    segs.push([a[0],a[1],a[0],h],[b[0],b[1],b[0],h],[a[0],h,b[0],h]);
    return [(a[0]+b[0])/2,h];
  };
  walk(tree);return segs;
}
function dendro(box,tree,leaves,maxH,horizontal){
  const g=grid.length;grid.push(box);
  const xi=xAxis.length,yi=yAxis.length;
  const bits={axisLine:{show:false},axisLabel:{show:false},axisTick:{show:false},splitLine:{show:false}};
  xAxis.push(Object.assign({gridIndex:g,type:'value'},horizontal?{min:0,max:maxH,inverse:true}:{min:0,max:leaves},bits));
  yAxis.push(Object.assign({gridIndex:g,type:'value'},horizontal?{min:0,max:leaves,inverse:true}:{min:0,max:maxH},bits));
  series.push({type:'custom',xAxisIndex:xi,yAxisIndex:yi,silent:true,clip:false,encode:horizontal?{x:[1,3],y:[0,2]}:{x:[0,2],y:[1,3]},data:segments(tree),
    renderItem(_,api){
      const a=[api.value(0),api.value(1)],b=[api.value(2),api.value(3)];
      const p=horizontal?api.coord([a[1],a[0]]):api.coord(a),q=horizontal?api.coord([b[1],b[0]]):api.coord(b);
      return {type:'line',shape:{x1:p[0],y1:p[1],x2:q[0],y2:q[1]},style:{stroke:'#000',lineWidth:2.5,lineCap:'square'}};
    }});
}
dendro({left:H.left,top:18,width:H.width,height:220},colTree,16,100,false);
dendro({left:2318,top:H.top,width:245,height:H.height},rowTree,75,245,true);

// Titles and panel letters
txt('Scores Plot',582,29,'bold 26px');txt('Scores Plot',1718,29,'bold 26px');txt('Scores Plot',577,1163,'bold 26px');
txt('Feature Importance',1714,1139,'bold 34px');
txt('Pathway Enrichment Analysis',1190,2322,'bold 57px',{fill:'#b2051f'});
txt('PCA',135,103,'52px',{align:'left'});txt('PLS-DA',1266,98,'52px',{align:'left'});
txt('OPLS-DA',124,1241,'52px',{align:'left'});txt('S-plot of OPLS-DA',1267,1236,'52px',{align:'left'});
[['A',13,48],['B',1132,43],['C',10,1172],['D',1132,1173],['E',2306,48],['F',97,2408]].forEach(l=>txt(l[0],l[1],l[2],'94px',{align:'left'}));

// the browser window may be narrower than the 4240 px figure: fit the whole figure to it
const box=document.getElementById('c');
box.style.transform='scaleX('+Math.min(1,window.innerWidth/4240)+')';
const chart=echarts.init(box,null,{renderer:'canvas',width:4240,height:4095});
chart.setOption({backgroundColor:'#fff',animation:false,tooltip:{show:false},grid,xAxis,yAxis,series,legend,visualMap,graphic:{elements:graphic}});
</script></body></html>
